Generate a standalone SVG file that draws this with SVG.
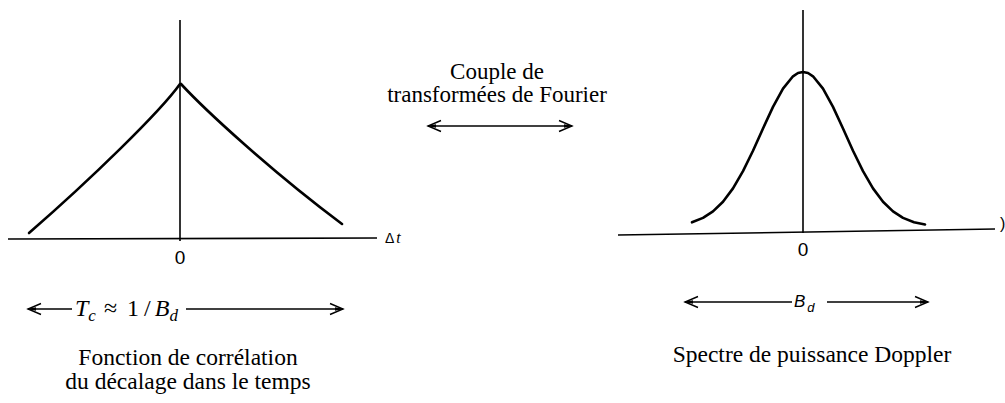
<svg xmlns="http://www.w3.org/2000/svg" width="1005" height="403" viewBox="0 0 1005 403">
<style>
.ax{stroke:#000;stroke-width:1.6;fill:none}
.cv{stroke:#000;stroke-width:2.6;fill:none;stroke-linejoin:round;stroke-linecap:round}
.ar{stroke:#000;stroke-width:1.5;fill:none}
.serif{font-family:"Liberation Serif","Times New Roman",serif;font-size:23.5px;fill:#000}
.mid{font-family:"Liberation Serif","Times New Roman",serif;font-size:23px;fill:#000}
.sans{font-family:"Liberation Sans",Arial,sans-serif;font-size:19px;fill:#000}
.it{font-family:"Liberation Serif","Times New Roman",serif;font-style:italic;fill:#000}
</style>
<defs>
<marker id="ah" markerUnits="userSpaceOnUse" markerWidth="16" markerHeight="14" refX="14" refY="7" orient="auto-start-reverse" viewBox="0 0 16 14">
<path d="M1,1.5 L14,7 L1,12.5" fill="none" stroke="#000" stroke-width="1.4"/>
<path d="M6,5.3 L15,7 L6,8.7 Z" fill="#000"/>
</marker>
</defs>
<g id="left-plot">
<line class="ax" x1="180" y1="20" x2="180" y2="241"/>
<line class="ax" x1="8" y1="239" x2="377" y2="238"/>
<path class="cv" d="M180,84 C160,112 90,180 29,233"/>
<path class="cv" d="M181,84 C205,110 270,170 342,224"/>
<text class="sans" x="180" y="264" text-anchor="middle">0</text>
<text x="385" y="243" font-family="Liberation Sans,Arial,sans-serif" font-size="14">Δ<tspan font-family="Liberation Serif,serif" font-style="italic" font-size="16" dx="2">t</tspan></text>
</g>
<g id="right-plot">
<line class="ax" x1="803" y1="10" x2="803" y2="233"/>
<line class="ax" x1="618" y1="235" x2="995" y2="229"/>
<path class="cv" d="M692,222.3 L703,217.9 L713,211.4 L723,201.7 L733,188.4 L743,171.1 L753,150.7 L763,128.5 L773,106.9 L783,88.6 L793,76.3 L798,73 L803,72 L808,73 L813,76.3 L823,88.6 L833,106.9 L843,128.5 L853,150.7 L863,171.1 L873,188.4 L883,201.7 L893,211.4 L903,217.9 L914,222.3 L925,224.5"/>
<text class="sans" x="803" y="256" text-anchor="middle">0</text>
<text x="1000" y="229" font-family="Liberation Sans,Arial,sans-serif" font-size="16">)</text>
</g>
<g id="transform-label">
<text class="mid" x="497" y="79" text-anchor="middle">Couple de</text>
<text class="mid" x="497" y="102" text-anchor="middle">transformées de Fourier</text>
</g>
<g id="left-caption">
<text class="serif" x="188" y="365" text-anchor="middle">Fonction de corrélation</text>
<text class="serif" x="188" y="389" text-anchor="middle">du décalage dans le temps</text>
</g>
<g id="right-caption">
<text class="serif" x="812" y="362" text-anchor="middle">Spectre de puissance Doppler</text>
</g>
<g id="tc-label">
<text class="it" x="75" y="316" font-size="24">T<tspan font-size="17" dy="5">c</tspan><tspan font-style="normal" dy="-5" dx="8">≈</tspan><tspan font-style="normal" dx="10">1</tspan><tspan font-style="normal" dx="5">/</tspan><tspan dx="4">B</tspan><tspan font-size="17" dy="5">d</tspan></text>
</g>
<g id="bd-label">
<text x="794" y="307" font-family="Liberation Sans,Arial,sans-serif" font-style="italic" font-size="17">B<tspan font-size="13" dy="5" dx="2">d</tspan></text>
</g>
<g id="connectors">
<line class="ar" x1="428" y1="126" x2="572" y2="126" marker-start="url(#ah)" marker-end="url(#ah)"/>
<line class="ar" x1="28" y1="309" x2="72" y2="309" marker-start="url(#ah)"/>
<line class="ar" x1="186" y1="309" x2="343" y2="309" marker-end="url(#ah)"/>
<line class="ar" x1="685" y1="302" x2="792" y2="302" marker-start="url(#ah)"/>
<line class="ar" x1="827" y1="302" x2="928" y2="302" marker-end="url(#ah)"/>
</g>
</svg>
